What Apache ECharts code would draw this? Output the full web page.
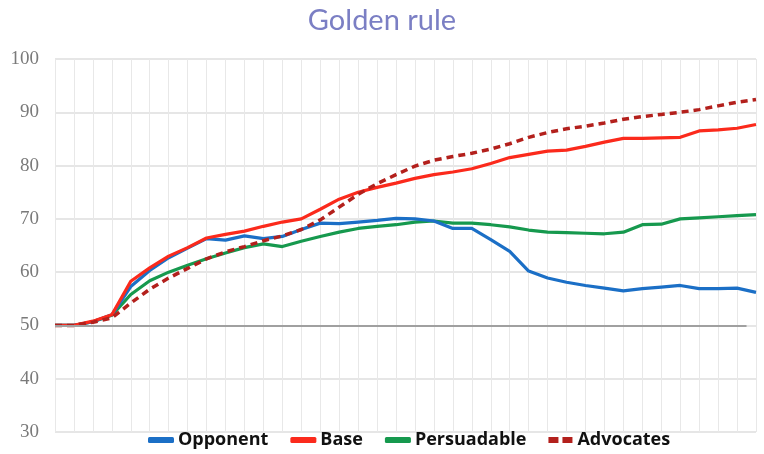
<!DOCTYPE html>
<html>
<head>
<meta charset="utf-8">
<script src="https://cdn.jsdelivr.net/npm/echarts@6/dist/echarts.min.js"></script>
<style>
  html, body { margin: 0; padding: 0; background: #fff; }
  #chart { width: 764px; height: 454px; }
</style>
</head>
<body>
<div id="chart"></div>
<script>
// rounds 0..37
const steps = Array.from({ length: 38 }, (_, i) => i)

const opponent = [50, 50, 50.7, 52, 57.3, 60.3, 62.7, 64.5, 66.3, 66.0, 66.8, 66.3, 66.7, 68.0, 69.2, 69.1, 69.4, 69.7, 70.1, 70.0, 69.6, 68.2, 68.2, 66.1, 63.9, 60.2, 58.9, 58.1, 57.5, 57.0, 56.5, 56.9, 57.2, 57.5, 56.9, 56.9, 57.0, 56.2]
const base = [50, 50, 50.8, 52.0, 58.3, 60.8, 63.0, 64.6, 66.4, 67.1, 67.7, 68.6, 69.4, 70.0, 71.8, 73.7, 75.0, 75.9, 76.7, 77.6, 78.3, 78.8, 79.4, 80.4, 81.5, 82.1, 82.7, 82.9, 83.6, 84.4, 85.1, 85.1, 85.2, 85.3, 86.5, 86.7, 87.0, 87.7]
const persuadable = [50, 50, 50.7, 51.9, 55.8, 58.4, 60.0, 61.3, 62.5, 63.6, 64.6, 65.3, 64.8, 65.8, 66.7, 67.5, 68.2, 68.6, 68.9, 69.4, 69.6, 69.2, 69.2, 68.9, 68.5, 67.9, 67.5, 67.4, 67.3, 67.2, 67.5, 68.9, 69.0, 70.0, 70.2, 70.4, 70.6, 70.8]
const advocates = [50, 50, 50.6, 51.4, 54.2, 56.8, 58.9, 60.7, 62.5, 63.8, 64.8, 65.9, 66.8, 68.0, 69.8, 72.2, 74.6, 76.6, 78.3, 79.9, 81.0, 81.7, 82.3, 83.1, 84.1, 85.3, 86.2, 86.9, 87.4, 88.0, 88.7, 89.2, 89.6, 90.0, 90.5, 91.2, 91.9, 92.4]

const baseline = 50
const baselineEnd = 36.5

const pairs = arr => arr.map((v, i) => [steps[i], v])

const mkLine = (name, data, color, extra = {}) => ({
    name,
    type: 'line',
    data: pairs(data),
    symbol: 'none',
    smooth: false,
    lineStyle: { color, width: 3.2, ...extra },
    itemStyle: { color }
})

// legend icons: solid bar, or two dashes for Advocates
const solidIcon = 'roundRect'
const dashIcon = 'path://M0,0h10v6h-10z M14,0h10v6h-10z'

const chart = echarts.init(document.getElementById('chart'))
chart.setOption({
    animation: false,
    title: {
        text: 'Golden rule',
        left: 'center',
        top: 1,
        textStyle: { color: '#7b7fc4', fontSize: 29, fontWeight: 'normal', fontFamily: 'Lato' }
    },
    legend: {
        data: [
            { name: 'Opponent', icon: solidIcon },
            { name: 'Base', icon: solidIcon },
            { name: 'Persuadable', icon: solidIcon },
            { name: 'Advocates', icon: dashIcon }
        ],
        bottom: 0,
        left: 143,
        itemWidth: 26,
        itemHeight: 6,
        itemGap: 22,
        textStyle: { color: '#111', fontSize: 18, fontWeight: 'bold', fontFamily: 'Open Sans', padding: [0, 0, 0, -1] }
    },
    grid: { left: 55, right: 8, top: 59, bottom: 22, containLabel: false },
    xAxis: {
        type: 'value',
        min: 0,
        max: 37,
        interval: 1,
        axisLabel: { show: false },
        axisTick: { show: false },
        axisLine: { show: false },
        splitLine: { show: true, lineStyle: { color: '#e8e8e8', width: 1 } }
    },
    yAxis: {
        type: 'value',
        min: 30,
        max: 100,
        interval: 10,
        axisLabel: { color: '#7a7a7a', fontSize: 19, margin: 16, fontFamily: 'Liberation Sans Narrow' },
        axisTick: { show: false },
        axisLine: { show: false },
        splitLine: { lineStyle: { color: '#dedede', width: 1.5 } }
    },
    series: [
        {
            ...mkLine('Persuadable', persuadable, '#16994e'),
            markLine: {
                silent: true,
                symbol: 'none',
                label: { show: false },
                lineStyle: { color: '#a0a0a0', width: 2, type: 'solid' },
                data: [[{ coord: [0, baseline] }, { coord: [baselineEnd, baseline] }]]
            }
        },
        mkLine('Opponent', opponent, '#1b6fc6'),
        mkLine('Base', base, '#fb2a1c'),
        mkLine('Advocates', advocates, '#b3201c', { type: [7, 5], width: 3.5 })
    ]
})
</script>
</body>
</html>
